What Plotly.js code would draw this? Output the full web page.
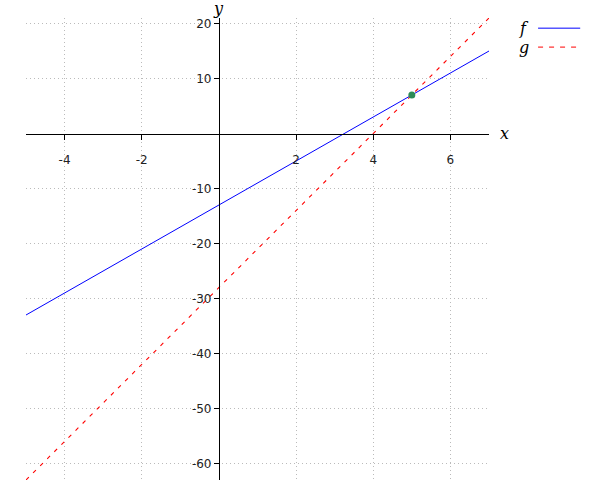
<!DOCTYPE html>
<html>
<head>
<meta charset="utf-8">
<script src="https://cdn.plot.ly/plotly-3.0.1.min.js"></script>
<style>html,body{margin:0;padding:0;background:#fff}#chart{width:600px;height:500px}</style>
</head>
<body>
<div id="chart"></div>
<script>
const xVals = [-5, 7];
const fVals = [-33, 15];
const gVals = [-63, 21];
const pointX = [5];
const pointY = [7];
const xTicks = [-4, -2, 2, 4, 6];
const yTicks = [-60, -50, -40, -30, -20, -10, 10, 20];
const xRange = [-5, 7];
const yRange = [-63, 21];

const traces = [
  {x: xVals, y: fVals, mode: 'lines', name: 'f', line: {color: '#0000ff', width: 1}, hoverinfo: 'skip'},
  {x: xVals, y: gVals, mode: 'lines', name: 'g', line: {color: '#ff0000', width: 1.1, dash: '4px,6px'}, hoverinfo: 'skip'},
  {x: pointX, y: pointY, mode: 'markers', marker: {color: '#2e8b57', size: 7}, hoverinfo: 'skip'}
];

const xPos = (0 - xRange[0]) / (xRange[1] - xRange[0]);
const yPos = (0 - yRange[0]) / (yRange[1] - yRange[0]);

const tickFont = {family: 'DejaVu Sans, sans-serif', size: 12, color: '#222'};
const gridStyle = {showgrid: true, gridcolor: '#bbbbbb', griddash: '1px,3px', gridwidth: 1};
const layout = {
  width: 600, height: 500,
  margin: {l: 26, r: 111, t: 18, b: 20},
  showlegend: false,
  paper_bgcolor: '#fff', plot_bgcolor: '#fff',
  xaxis: Object.assign({
    range: xRange, tickvals: xTicks, ticktext: xTicks.map(String),
    anchor: 'free', position: yPos, side: 'bottom',
    showline: true, linecolor: '#000', linewidth: 1,
    ticks: 'outside', ticklen: 5, tickcolor: '#000',
    ticklabelstandoff: 10,
    zeroline: false, tickfont: tickFont
  }, gridStyle),
  yaxis: Object.assign({
    range: yRange, tickvals: yTicks, ticktext: yTicks.map(String),
    anchor: 'free', position: xPos, side: 'left',
    showline: true, linecolor: '#000', linewidth: 1,
    ticks: 'outside', ticklen: 5, tickcolor: '#000',
    zeroline: false, tickfont: tickFont
  }, gridStyle),
  annotations: [
    {text: '<i>x</i>', xref: 'paper', yref: 'y', x: 1, y: 0, xanchor: 'left', yanchor: 'middle', xshift: 9, showarrow: false,
     font: {family: 'DejaVu Serif, serif', size: 16, color: '#000'}},
    {text: '<i>y</i>', xref: 'x', yref: 'paper', x: 0, y: 1, xanchor: 'center', yanchor: 'bottom', yshift: -2, showarrow: false,
     font: {family: 'DejaVu Serif, serif', size: 16, color: '#000'}},
    {text: '<i>f</i>', xref: 'paper', yref: 'paper', x: 1.09, y: 0.978, xanchor: 'right', yanchor: 'middle', showarrow: false,
     font: {family: 'DejaVu Serif, serif', size: 16, color: '#000'}},
    {text: '<i>g</i>', xref: 'paper', yref: 'paper', x: 1.09, y: 0.937, xanchor: 'right', yanchor: 'middle', showarrow: false,
     font: {family: 'DejaVu Serif, serif', size: 16, color: '#000'}}
  ],
  shapes: [
    {type: 'line', xref: 'paper', yref: 'paper', x0: 1.106, x1: 1.197, y0: 0.978, y1: 0.978, line: {color: '#0000ff', width: 1}},
    {type: 'line', xref: 'paper', yref: 'paper', x0: 1.106, x1: 1.197, y0: 0.937, y1: 0.937, line: {color: '#ff0000', width: 1, dash: '5px,6px'}}
  ]
};
Plotly.newPlot('chart', traces, layout, {displayModeBar: false, staticPlot: true});
</script>
</body>
</html>
